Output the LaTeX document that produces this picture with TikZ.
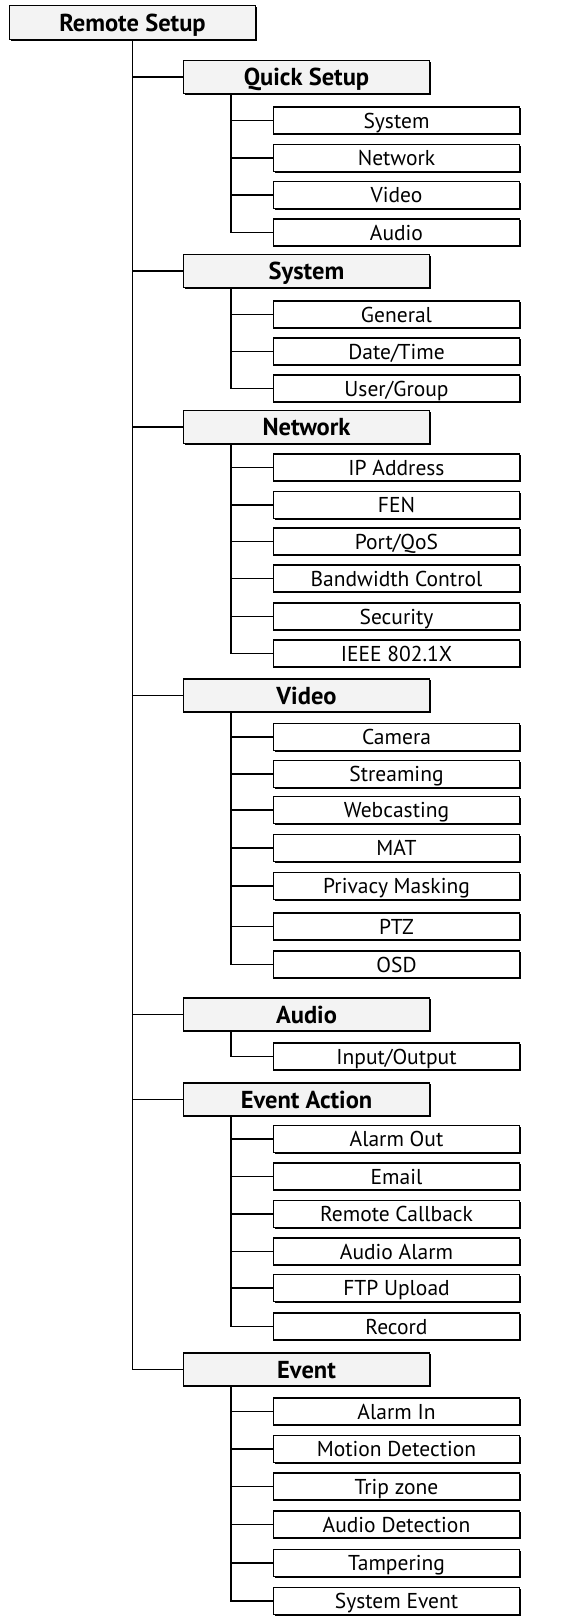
\documentclass[tikz,border=0pt]{standalone}
\usepackage{fontspec}
\setmainfont{PT Sans}
\usetikzlibrary{shadows,calc}
\definecolor{secfill}{HTML}{F3F3F3}
\tikzset{
  base/.style={draw=black, line width=1.1pt, minimum width=246pt, inner sep=0pt,
    text depth=0pt,
    general shadow={fill=black, shadow xshift=1.4pt, shadow yshift=-1.4pt}},
  rootbox/.style={base, fill=secfill, minimum height=34pt, text height=17pt, font=\bfseries\fontsize{24.5}{28}\selectfont},
  secbox/.style={base, fill=secfill, minimum height=33pt, text height=17pt, font=\bfseries\fontsize{24.5}{28}\selectfont},
  itembox/.style={base, fill=white, minimum height=27pt, text height=15pt, font=\fontsize{21.5}{24}\selectfont},
  link/.style={draw=black, line width=1.3pt}
}
\begin{document}
\begin{tikzpicture}[x=1pt,y=-1pt]
\useasboundingbox (0,0) rectangle (576,1617);
\node[rootbox] (root) at (132.5,22.5) {Remote Setup};
% Quick Setup
\node[secbox] (s1) at (306.5,77) {Quick Setup};
\node[itembox] (s1a) at (396.5,120.5) {System};
\node[itembox] (s1b) at (396.5,158) {Network};
\node[itembox] (s1c) at (396.5,195) {Video};
\node[itembox] (s1d) at (396.5,232.5) {Audio};
% System
\node[secbox] (s2) at (306.5,271) {System};
\node[itembox] (s2a) at (396.5,314.5) {General};
\node[itembox] (s2b) at (396.5,351.5) {Date/Time};
\node[itembox] (s2c) at (396.5,388.5) {User/Group};
% Network
\node[secbox] (s3) at (306.5,427) {Network};
\node[itembox] (s3a) at (396.5,467.5) {IP Address};
\node[itembox] (s3b) at (396.5,505) {FEN};
\node[itembox] (s3c) at (396.5,541.5) {Port/QoS};
\node[itembox] (s3d) at (396.5,578.5) {Bandwidth Control};
\node[itembox] (s3e) at (396.5,616.5) {Security};
\node[itembox] (s3f) at (396.5,653.5) {IEEE 802.1X};
% Video
\node[secbox] (s4) at (306.5,695.5) {Video};
\node[itembox] (s4a) at (396.5,737) {Camera};
\node[itembox] (s4b) at (396.5,774) {Streaming};
\node[itembox] (s4c) at (396.5,810) {Webcasting};
\node[itembox] (s4d) at (396.5,848) {MAT};
\node[itembox] (s4e) at (396.5,886) {Privacy Masking};
\node[itembox] (s4f) at (396.5,926.5) {PTZ};
\node[itembox] (s4g) at (396.5,964.5) {OSD};
% Audio
\node[secbox] (s5) at (306.5,1014.5) {Audio};
\node[itembox] (s5a) at (396.5,1056.5) {Input/Output};
% Event Action
\node[secbox] (s6) at (306.5,1099.5) {Event Action};
\node[itembox] (s6a) at (396.5,1139) {Alarm Out};
\node[itembox] (s6b) at (396.5,1176.5) {Email};
\node[itembox] (s6c) at (396.5,1214) {Remote Callback};
\node[itembox] (s6d) at (396.5,1251.5) {Audio Alarm};
\node[itembox] (s6e) at (396.5,1288) {FTP Upload};
\node[itembox] (s6f) at (396.5,1326.5) {Record};
% Event
\node[secbox] (s7) at (306.5,1369.5) {Event};
\node[itembox] (s7a) at (396.5,1411.5) {Alarm In};
\node[itembox] (s7b) at (396.5,1449) {Motion Detection};
\node[itembox] (s7c) at (396.5,1486.5) {Trip zone};
\node[itembox] (s7d) at (396.5,1524.5) {Audio Detection};
\node[itembox] (s7e) at (396.5,1563) {Tampering};
\node[itembox] (s7f) at (396.5,1601) {System Event};
% main trunk
\draw[link] (root.south) |- (s7.west);
\foreach \s in {s1,s2,s3,s4,s5,s6}
  \draw[link] (\s.west) -- (\s.west -| root.south);
% sub trunks
\foreach \s/\last/\others in {s1/s1d/{s1a,s1b,s1c}, s2/s2c/{s2a,s2b}, s3/s3f/{s3a,s3b,s3c,s3d,s3e},
    s4/s4g/{s4a,s4b,s4c,s4d,s4e,s4f}, s5/s5a/{}, s6/s6f/{s6a,s6b,s6c,s6d,s6e}, s7/s7f/{s7a,s7b,s7c,s7d,s7e}} {
  \coordinate (t) at ([xshift=48pt]\s.south west);
  \draw[link] (t) |- (\last.west);
  \foreach \c in \others
    \draw[link] (\c.west) -- (\c.west -| t);
}
\end{tikzpicture}
\end{document}
